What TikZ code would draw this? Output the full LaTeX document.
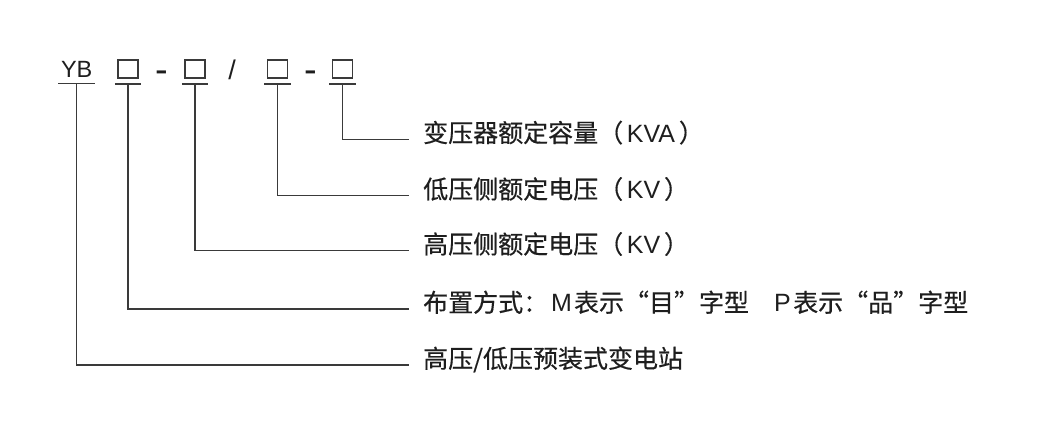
\documentclass[tikz,border=0pt]{standalone}
\usepackage{fontspec}
\setmainfont{Liberation Sans}
\newfontfamily\cjk[FakeBold=0.4]{Noto Sans CJK SC}
\newcommand\yw[1]{{\rmfamily #1}}
\usetikzlibrary{positioning}
\definecolor{xianse}{HTML}{3A3A3A}
\definecolor{zise}{HTML}{1E1E1E}
\tikzset{
  xian/.style={draw=xianse,line width=1.2pt},
  kuang/.style={draw=xianse,line width=1.3pt,inner sep=0pt,minimum width=20pt,minimum height=18pt},
  daihao/.style={inner sep=0pt,anchor=base,text=zise,font=\fontsize{23.5}{24}\selectfont},
  biaozhu/.style={inner sep=0pt,anchor=west,text=zise,text height=0.78em,text depth=0.22em,
    font=\cjk\fontsize{25}{26}\selectfont}
}
\begin{document}
\begin{tikzpicture}[x=1pt,y=-1pt]
\useasboundingbox (0,0) rectangle (1046,436);

% xinghao: YB [] - [] / [] - []
\node[daihao] (yb) at (76.7,77.3) {YB};
\node[kuang] (b1) at (128,69) {};
\node[daihao,font=\fontsize{38}{38}\selectfont] (d1) at (162,82) {-};
\node[kuang] (b2) at (195,69) {};
\node[daihao,font=\fontsize{27}{27}\selectfont] (xg) at (232,79.5) {/};
\node[kuang] (b3) at (277.5,69) {};
\node[daihao,font=\fontsize{38}{38}\selectfont] (d2) at (311,82) {-};
\node[kuang] (b4) at (342.5,69) {};

% xiahuaxian
\draw[xian] ([xshift=-2.5pt,yshift=-6pt]yb.south west) -- ([xshift=2.5pt,yshift=-6pt]yb.south east);
\draw[xian] ([xshift=-2.5pt,yshift=-5.3pt]b1.south west) -- ([xshift=2.5pt,yshift=-5.3pt]b1.south east);
\draw[xian] ([xshift=-2.5pt,yshift=-5.3pt]b2.south west) -- ([xshift=2.5pt,yshift=-5.3pt]b2.south east);
\draw[xian] ([xshift=-2.5pt,yshift=-5.3pt]b3.south west) -- ([xshift=2.5pt,yshift=-5.3pt]b3.south east);
\draw[xian] ([xshift=-2.5pt,yshift=-5.3pt]b4.south west) -- ([xshift=2.5pt,yshift=-5.3pt]b4.south east);

% shuoming
\node[biaozhu] (l1) at (423,139.3) {变压器额定容量（\yw{\hspace{0.15em}KVA\hspace{0.15em}}）};
\node[biaozhu] (l2) at (423,195.7) {低压侧额定电压（\yw{\hspace{0.15em}KV\hspace{0.15em}}）};
\node[biaozhu] (l3) at (423,250.7) {高压侧额定电压（\yw{\hspace{0.15em}KV\hspace{0.15em}}）};
\node[biaozhu] (l4) at (423,309) {布置方式：\yw{\hspace{0.12em}M\hspace{0.08em}}表示“目”字型\hspace{1em}\yw{P\hspace{0.1em}}表示“品”字型};
\node[biaozhu] (l5) at (423,365) {高压/低压预装式变电站};

% lianxian
\draw[xian,shorten >=14pt] ([yshift=-5.3pt]b4.south) |- (l1.west);
\draw[xian,shorten >=14pt] ([yshift=-5.3pt]b3.south) |- (l2.west);
\draw[xian,shorten >=14pt] ([yshift=-5.3pt]b2.south) |- (l3.west);
\draw[xian,shorten >=14pt] ([yshift=-5.3pt]b1.south) |- (l4.west);
\draw[xian,shorten >=14pt] ([yshift=-6pt]yb.south) |- (l5.west);
\end{tikzpicture}
\end{document}
